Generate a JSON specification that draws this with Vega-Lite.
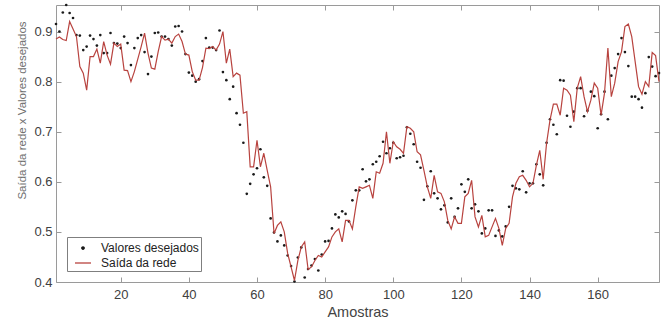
{
"$schema": "https://vega.github.io/schema/vega-lite/v6.json",
"width": 603, "height": 277,
"autosize": {"type": "none"},
"padding": {"left": 56, "top": 5, "right": 6, "bottom": 40},
"background": "white",
"config": {
  "view": {"stroke": "#9a9a9a", "strokeWidth": 1},
  "font": "Liberation Sans",
  "axis": {"domain": false, "grid": false, "tickColor": "#9a9a9a", "tickSize": -5, "labelColor": "#404040", "labelFont": "Liberation Sans", "labelFontSize": 13, "titleFont": "Liberation Sans", "titleFontWeight": "normal"}
},
"data": {"values": [
{"Amostra":1,"desejado":0.915,"rede":0.885},{"Amostra":2,"desejado":0.900,"rede":0.889},{"Amostra":3,"desejado":0.938,"rede":0.884},{"Amostra":4,"desejado":0.953,"rede":0.882},{"Amostra":5,"desejado":0.937,"rede":0.920},
{"Amostra":6,"desejado":0.927,"rede":0.905},{"Amostra":7,"desejado":0.893,"rede":0.890},{"Amostra":8,"desejado":0.892,"rede":0.830},{"Amostra":9,"desejado":0.863,"rede":0.817},{"Amostra":10,"desejado":0.870,"rede":0.783},
{"Amostra":11,"desejado":0.892,"rede":0.850},{"Amostra":12,"desejado":0.885,"rede":0.850},{"Amostra":13,"desejado":0.872,"rede":0.865},{"Amostra":14,"desejado":0.893,"rede":0.837},{"Amostra":15,"desejado":0.857,"rede":0.880},
{"Amostra":16,"desejado":0.857,"rede":0.853},{"Amostra":17,"desejado":0.897,"rede":0.835},{"Amostra":18,"desejado":0.877,"rede":0.877},{"Amostra":19,"desejado":0.876,"rede":0.870},{"Amostra":20,"desejado":0.867,"rede":0.875},
{"Amostra":21,"desejado":0.890,"rede":0.823},{"Amostra":22,"desejado":0.877,"rede":0.822},{"Amostra":23,"desejado":0.833,"rede":0.800},{"Amostra":24,"desejado":0.867,"rede":0.820},{"Amostra":25,"desejado":0.887,"rede":0.845},
{"Amostra":26,"desejado":0.893,"rede":0.870},{"Amostra":27,"desejado":0.859,"rede":0.897},{"Amostra":28,"desejado":0.815,"rede":0.857},{"Amostra":29,"desejado":0.850,"rede":0.827},{"Amostra":30,"desejado":0.897,"rede":0.825},
{"Amostra":31,"desejado":0.898,"rede":0.860},{"Amostra":32,"desejado":0.890,"rede":0.890},{"Amostra":33,"desejado":0.890,"rede":0.883},{"Amostra":34,"desejado":0.885,"rede":0.885},{"Amostra":35,"desejado":0.872,"rede":0.877},
{"Amostra":36,"desejado":0.910,"rede":0.890},{"Amostra":37,"desejado":0.911,"rede":0.895},{"Amostra":38,"desejado":0.900,"rede":0.880},{"Amostra":39,"desejado":0.855,"rede":0.855},{"Amostra":40,"desejado":0.818,"rede":0.853},
{"Amostra":41,"desejado":0.812,"rede":0.820},{"Amostra":42,"desejado":0.800,"rede":0.803},{"Amostra":43,"desejado":0.805,"rede":0.803},{"Amostra":44,"desejado":0.841,"rede":0.828},{"Amostra":45,"desejado":0.887,"rede":0.867},
{"Amostra":46,"desejado":0.868,"rede":0.866},{"Amostra":47,"desejado":0.868,"rede":0.870},{"Amostra":48,"desejado":0.863,"rede":0.863},{"Amostra":49,"desejado":0.902,"rede":0.875},{"Amostra":50,"desejado":0.819,"rede":0.900},
{"Amostra":51,"desejado":0.803,"rede":0.837},{"Amostra":52,"desejado":0.765,"rede":0.865},{"Amostra":53,"desejado":0.790,"rede":0.810},{"Amostra":54,"desejado":0.737,"rede":0.817},{"Amostra":55,"desejado":0.714,"rede":0.813},
{"Amostra":56,"desejado":0.678,"rede":0.737},{"Amostra":57,"desejado":0.576,"rede":0.740},{"Amostra":58,"desejado":0.596,"rede":0.630},{"Amostra":59,"desejado":0.615,"rede":0.630},{"Amostra":60,"desejado":0.627,"rede":0.683},
{"Amostra":61,"desejado":0.665,"rede":0.630},{"Amostra":62,"desejado":0.609,"rede":0.657},{"Amostra":63,"desejado":0.592,"rede":0.623},{"Amostra":64,"desejado":0.527,"rede":0.590},{"Amostra":65,"desejado":0.499,"rede":0.497},
{"Amostra":66,"desejado":0.481,"rede":0.513},{"Amostra":67,"desejado":0.493,"rede":0.520},{"Amostra":68,"desejado":0.473,"rede":0.500},{"Amostra":69,"desejado":0.453,"rede":0.457},{"Amostra":70,"desejado":0.432,"rede":0.430},
{"Amostra":71,"desejado":0.401,"rede":0.403},{"Amostra":72,"desejado":0.449,"rede":0.443},{"Amostra":73,"desejado":0.469,"rede":0.470},{"Amostra":74,"desejado":0.409,"rede":0.480},{"Amostra":75,"desejado":0.426,"rede":0.425},
{"Amostra":76,"desejado":0.433,"rede":0.430},{"Amostra":77,"desejado":0.446,"rede":0.443},{"Amostra":78,"desejado":0.423,"rede":0.453},{"Amostra":79,"desejado":0.455,"rede":0.450},{"Amostra":80,"desejado":0.481,"rede":0.460},
{"Amostra":81,"desejado":0.482,"rede":0.470},{"Amostra":82,"desejado":0.507,"rede":0.490},{"Amostra":83,"desejado":0.535,"rede":0.500},{"Amostra":84,"desejado":0.529,"rede":0.506},{"Amostra":85,"desejado":0.541,"rede":0.480},
{"Amostra":86,"desejado":0.536,"rede":0.523},{"Amostra":87,"desejado":0.521,"rede":0.523},{"Amostra":88,"desejado":0.563,"rede":0.506},{"Amostra":89,"desejado":0.583,"rede":0.550},{"Amostra":90,"desejado":0.583,"rede":0.590},
{"Amostra":91,"desejado":0.625,"rede":0.587},{"Amostra":92,"desejado":0.601,"rede":0.590},{"Amostra":93,"desejado":0.605,"rede":0.593},{"Amostra":94,"desejado":0.635,"rede":0.567},{"Amostra":95,"desejado":0.640,"rede":0.620},
{"Amostra":96,"desejado":0.651,"rede":0.617},{"Amostra":97,"desejado":0.680,"rede":0.637},{"Amostra":98,"desejado":0.657,"rede":0.700},{"Amostra":99,"desejado":0.667,"rede":0.637},{"Amostra":100,"desejado":0.678,"rede":0.680},
{"Amostra":101,"desejado":0.647,"rede":0.670},{"Amostra":102,"desejado":0.649,"rede":0.665},{"Amostra":103,"desejado":0.652,"rede":0.657},{"Amostra":104,"desejado":0.709,"rede":0.710},{"Amostra":105,"desejado":0.696,"rede":0.707},
{"Amostra":106,"desejado":0.675,"rede":0.700},{"Amostra":107,"desejado":0.640,"rede":0.660},{"Amostra":108,"desejado":0.628,"rede":0.654},{"Amostra":109,"desejado":0.564,"rede":0.623},{"Amostra":110,"desejado":0.591,"rede":0.590},
{"Amostra":111,"desejado":0.621,"rede":0.567},{"Amostra":112,"desejado":0.577,"rede":0.613},{"Amostra":113,"desejado":0.567,"rede":0.580},{"Amostra":114,"desejado":0.545,"rede":0.577},{"Amostra":115,"desejado":0.553,"rede":0.560},
{"Amostra":116,"desejado":0.519,"rede":0.523},{"Amostra":117,"desejado":0.567,"rede":0.506},{"Amostra":118,"desejado":0.530,"rede":0.530},{"Amostra":119,"desejado":0.547,"rede":0.517},{"Amostra":120,"desejado":0.595,"rede":0.517},
{"Amostra":121,"desejado":0.580,"rede":0.570},{"Amostra":122,"desejado":0.605,"rede":0.577},{"Amostra":123,"desejado":0.547,"rede":0.603},{"Amostra":124,"desejado":0.555,"rede":0.530},{"Amostra":125,"desejado":0.541,"rede":0.510},
{"Amostra":126,"desejado":0.497,"rede":0.533},{"Amostra":127,"desejado":0.507,"rede":0.490},{"Amostra":128,"desejado":0.543,"rede":0.493},{"Amostra":129,"desejado":0.543,"rede":0.510},{"Amostra":130,"desejado":0.492,"rede":0.527},
{"Amostra":131,"desejado":0.503,"rede":0.507},{"Amostra":132,"desejado":0.491,"rede":0.473},{"Amostra":133,"desejado":0.511,"rede":0.507},{"Amostra":134,"desejado":0.550,"rede":0.517},{"Amostra":135,"desejado":0.592,"rede":0.570},
{"Amostra":136,"desejado":0.587,"rede":0.597},{"Amostra":137,"desejado":0.585,"rede":0.610},{"Amostra":138,"desejado":0.621,"rede":0.613},{"Amostra":139,"desejado":0.579,"rede":0.603},{"Amostra":140,"desejado":0.597,"rede":0.590},
{"Amostra":141,"desejado":0.597,"rede":0.597},{"Amostra":142,"desejado":0.635,"rede":0.633},{"Amostra":143,"desejado":0.615,"rede":0.663},{"Amostra":144,"desejado":0.593,"rede":0.605},{"Amostra":145,"desejado":0.678,"rede":0.677},
{"Amostra":146,"desejado":0.725,"rede":0.723},{"Amostra":147,"desejado":0.714,"rede":0.755},{"Amostra":148,"desejado":0.695,"rede":0.755},{"Amostra":149,"desejado":0.803,"rede":0.733},{"Amostra":150,"desejado":0.802,"rede":0.787},
{"Amostra":151,"desejado":0.732,"rede":0.783},{"Amostra":152,"desejado":0.710,"rede":0.773},{"Amostra":153,"desejado":0.740,"rede":0.720},{"Amostra":154,"desejado":0.787,"rede":0.787},{"Amostra":155,"desejado":0.787,"rede":0.810},
{"Amostra":156,"desejado":0.731,"rede":0.770},{"Amostra":157,"desejado":0.742,"rede":0.740},{"Amostra":158,"desejado":0.780,"rede":0.763},{"Amostra":159,"desejado":0.771,"rede":0.797},{"Amostra":160,"desejado":0.707,"rede":0.787},
{"Amostra":161,"desejado":0.735,"rede":0.733},{"Amostra":162,"desejado":0.780,"rede":0.777},{"Amostra":163,"desejado":0.725,"rede":0.867},{"Amostra":164,"desejado":0.812,"rede":0.770},{"Amostra":165,"desejado":0.827,"rede":0.797},
{"Amostra":166,"desejado":0.855,"rede":0.840},{"Amostra":167,"desejado":0.887,"rede":0.860},{"Amostra":168,"desejado":0.859,"rede":0.910},{"Amostra":169,"desejado":0.831,"rede":0.915},{"Amostra":170,"desejado":0.770,"rede":0.890},
{"Amostra":171,"desejado":0.770,"rede":0.840},{"Amostra":172,"desejado":0.765,"rede":0.790},{"Amostra":173,"desejado":0.748,"rede":0.775},{"Amostra":174,"desejado":0.777,"rede":0.800},{"Amostra":175,"desejado":0.849,"rede":0.790},
{"Amostra":176,"desejado":0.830,"rede":0.858},{"Amostra":177,"desejado":0.811,"rede":0.852},{"Amostra":178,"desejado":0.817,"rede":0.800}
]},
"layer": [
  {
    "mark": {"type": "circle", "size": 7, "opacity": 1},
    "encoding": {
      "x": {"field": "Amostra", "type": "quantitative", "scale": {"domain": [1, 178], "nice": false, "zero": false},
            "axis": {"orient": "bottom", "values": [20, 40, 60, 80, 100, 120, 140, 160], "labelPadding": 11, "title": "Amostras", "titleFontSize": 14.5, "titleColor": "#444444", "titlePadding": 4}},
      "y": {"field": "desejado", "type": "quantitative", "scale": {"domain": [0.4, 0.953], "nice": false, "zero": false},
            "axis": {"orient": "left", "values": [0.4, 0.5, 0.6, 0.7, 0.8, 0.9], "format": ".1f", "labelPadding": 9, "title": "Saída da rede x Valores desejados", "titleFontSize": 11.5, "titleColor": "#707070", "titlePadding": 6, "titleY": 105}},
      "color": {"datum": "Valores desejados",
        "scale": {"domain": ["Valores desejados", "Saída da rede"], "range": ["#1a1a1a", "#b8433f"]},
        "legend": {"title": null, "orient": "none", "legendX": 11, "legendY": 232, "direction": "vertical",
          "strokeColor": "#7f7f7f", "fillColor": "white", "padding": 2,
          "labelFont": "Liberation Sans", "labelFontSize": 12, "labelColor": "#222222", "labelLimit": 300, "labelOffset": 9,
          "symbolType": "stroke", "symbolSize": 256, "symbolOffset": 5, "symbolStrokeWidth": 1.3, "rowPadding": 0,
          "encoding": {"symbols": {
            "shape": {"value": {"expr": "datum.value === 'Valores desejados' ? 'circle' : 'stroke'"}},
            "size": {"value": {"expr": "datum.value === 'Valores desejados' ? 6 : 256"}},
            "fill": {"value": {"expr": "datum.value === 'Valores desejados' ? '#1a1a1a' : 'transparent'"}},
            "stroke": {"value": {"expr": "datum.value === 'Valores desejados' ? 'transparent' : '#b8433f'"}},
            "strokeWidth": {"value": 1.3},
            "opacity": {"value": 1}
          }}
        }
      }
    }
  },
  {
    "mark": {"type": "line", "strokeWidth": 1.2},
    "encoding": {
      "x": {"field": "Amostra", "type": "quantitative",
            "axis": {"orient": "top", "values": [20, 40, 60, 80, 100, 120, 140, 160], "labels": false, "title": null}},
      "y": {"field": "rede", "type": "quantitative",
            "axis": {"orient": "right", "values": [0.4, 0.5, 0.6, 0.7, 0.8, 0.9], "labels": false, "title": null}},
      "color": {"datum": "Saída da rede"}
    }
  }
],
"resolve": {"axis": {"x": "independent", "y": "independent"}}
}
